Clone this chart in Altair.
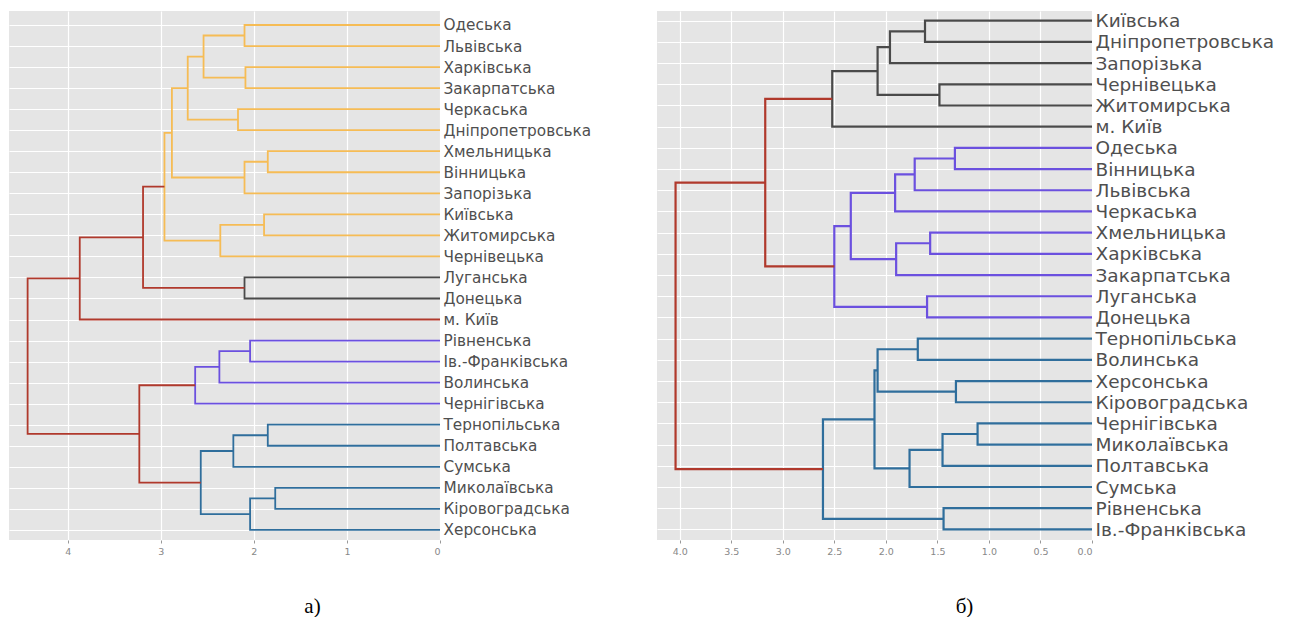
import json
import altair as alt
import pandas as pd

# ---------------- Panel а) ----------------
leaves_a = ["Одеська", "Львівська", "Харківська", "Закарпатська", "Черкаська",
            "Дніпропетровська", "Хмельницька", "Вінницька", "Запорізька", "Київська",
            "Житомирська", "Чернівецька", "Луганська", "Донецька", "м. Київ",
            "Рівненська", "Ів.-Франківська", "Волинська", "Чернігівська",
            "Тернопільська", "Полтавська", "Сумська", "Миколаївська",
            "Кіровоградська", "Херсонська"]
left_a = ["Одеська", "Харківська", "#0", "Черкаська", "#2", "Хмельницька", "#5", "#4",
          "Київська", "#8", "#7", "Луганська", "#10", "#12", "Рівненська", "#14", "#15",
          "Тернопільська", "#17", "Миколаївська", "#19", "#18", "#16", "#13"]
right_a = ["Львівська", "Закарпатська", "#1", "Дніпропетровська", "#3", "Вінницька",
           "Запорізька", "#6", "Житомирська", "Чернівецька", "#9", "Донецька", "#11",
           "м. Київ", "Ів.-Франківська", "Волинська", "Чернігівська", "Полтавська",
           "Сумська", "Кіровоградська", "Херсонська", "#20", "#21", "#22"]
height_a = [2.10, 2.09, 2.54, 2.17, 2.71, 1.85, 2.10, 2.88, 1.89, 2.36, 2.96, 2.10,
            3.19, 3.87, 2.04, 2.37, 2.63, 1.85, 2.22, 1.77, 2.04, 2.57, 3.23, 4.43]
group_a = ["C1", "C1", "C1", "C1", "C1", "C1", "C1", "C1", "C1", "C1", "C1", "C2",
           "C0", "C0", "C3", "C3", "C3", "C4", "C4", "C4", "C4", "C4", "C0", "C0"]

# ---------------- Panel б) ----------------
leaves_b = ["Київська", "Дніпропетровська", "Запорізька", "Чернівецька", "Житомирська",
            "м. Київ", "Одеська", "Вінницька", "Львівська", "Черкаська", "Хмельницька",
            "Харківська", "Закарпатська", "Луганська", "Донецька", "Тернопільська",
            "Волинська", "Херсонська", "Кіровоградська", "Чернігівська", "Миколаївська",
            "Полтавська", "Сумська", "Рівненська", "Ів.-Франківська"]
left_b = ["Київська", "#0", "Чернівецька", "#1", "#3", "Одеська", "#5", "#6",
          "Хмельницька", "#8", "#7", "Луганська", "#10", "#4", "Тернопільська",
          "Херсонська", "#14", "Чернігівська", "#17", "#18", "#16", "Рівненська", "#20", "#13"]
right_b = ["Дніпропетровська", "Запорізька", "Житомирська", "#2", "м. Київ", "Вінницька",
           "Львівська", "Черкаська", "Харківська", "Закарпатська", "#9", "Донецька", "#11",
           "#12", "Волинська", "Кіровоградська", "#15", "Миколаївська", "Полтавська",
           "Сумська", "#19", "Ів.-Франківська", "#21", "#22"]
height_b = [1.62, 1.96, 1.48, 2.08, 2.52, 1.33, 1.72, 1.91, 1.57, 1.90, 2.34, 1.60,
            2.50, 3.17, 1.69, 1.32, 2.08, 1.11, 1.45, 1.77, 2.11, 1.44, 2.61, 4.04]
group_b = ["C2", "C2", "C2", "C2", "C2", "C3", "C3", "C3", "C3", "C3", "C3", "C3",
           "C3", "C0", "C4", "C4", "C4", "C4", "C4", "C4", "C4", "C4", "C4", "C0"]

group_names = ["C0", "C1", "C2", "C3", "C4"]
group_colors = ["#B0392C", "#F6BC55", "#4A4A4A", "#6B50DF", "#2F6E9C"]


def links(leaves, lefts, rights, heights, groups):
    pos = {name: (float(i), 0.0) for i, name in enumerate(leaves)}
    rows = []
    for k, (l, r, h, g) in enumerate(zip(lefts, rights, heights, groups)):
        yl, hl = pos[l]
        yr, hr = pos[r]
        pts = [(hl, yl), (h, yl), (h, yr), (hr, yr)]
        for j, (xx, yy) in enumerate(pts):
            rows.append({"link": k, "ord": j, "x": xx, "y": yy, "grp": g})
        pos["#%d" % k] = ((yl + yr) / 2.0, h)
    return pd.DataFrame(rows)


def panel(leaves, lefts, rights, heights, groups, width, height, xdom, ydom,
          xticks, xfmt, font_size, stroke, caption, dx):
    df = links(leaves, lefts, rights, heights, groups)
    label_expr = json.dumps(leaves, ensure_ascii=False) + "[datum.value]"
    return alt.Chart(df).mark_line(strokeWidth=stroke, strokeJoin="miter", clip=True).encode(
        x=alt.X("x:Q", scale=alt.Scale(domain=xdom, nice=False, zero=False),
                axis=alt.Axis(values=xticks, format=xfmt, title=None, domain=False,
                              grid=True, gridColor="white", gridWidth=1.2,
                              tickSize=3, tickColor="#999", tickWidth=1,
                              labelFontSize=9.5, labelColor="#888", labelPadding=3,
                              labelFont="DejaVu Sans")),
        y=alt.Y("y:Q", scale=alt.Scale(domain=ydom, nice=False, zero=False),
                axis=alt.Axis(orient="right", values=list(range(len(leaves))),
                              labelExpr=label_expr, title=None, domain=False,
                              ticks=False, grid=True, gridColor="white", gridWidth=1.2,
                              labelFontSize=font_size, labelColor="#4F4F4F",
                              labelFont="DejaVu Sans", labelPadding=3,
                              labelLimit=400, labelBaseline="middle")),
        color=alt.Color("grp:N", scale=alt.Scale(domain=group_names, range=group_colors),
                        legend=None),
        detail="link:N",
        order="ord:Q",
    ).properties(
        width=width, height=height,
        title=alt.TitleParams(text=caption, orient="bottom", anchor="middle",
                              frame="group", dx=dx, offset=40,
                              font="Liberation Serif", fontSize=21,
                              fontWeight="normal", color="black"),
    )


pa = panel(leaves_a, left_a, right_a, height_a, group_a, 431, 529,
           [4.63, 0], [24.48, -0.665], [0, 1, 2, 3, 4], "d", 15.3, 1.8, "а)", 88)
pb = panel(leaves_b, left_b, right_b, height_b, group_b, 435, 529,
           [4.22, 0], [24.5, -0.458], [0, 0.5, 1, 1.5, 2, 2.5, 3, 3.5, 4], ".1f",
           18.5, 2.2, "б)", 90)

chart = alt.hconcat(pa, pb, spacing=217, bounds="flush").properties(
    padding={"left": 1, "top": 3, "right": 0, "bottom": 0}
).configure_view(fill="#E5E5E5", stroke=None)

chart.save("out.html", embed_options={"renderer": "svg", "actions": False})
